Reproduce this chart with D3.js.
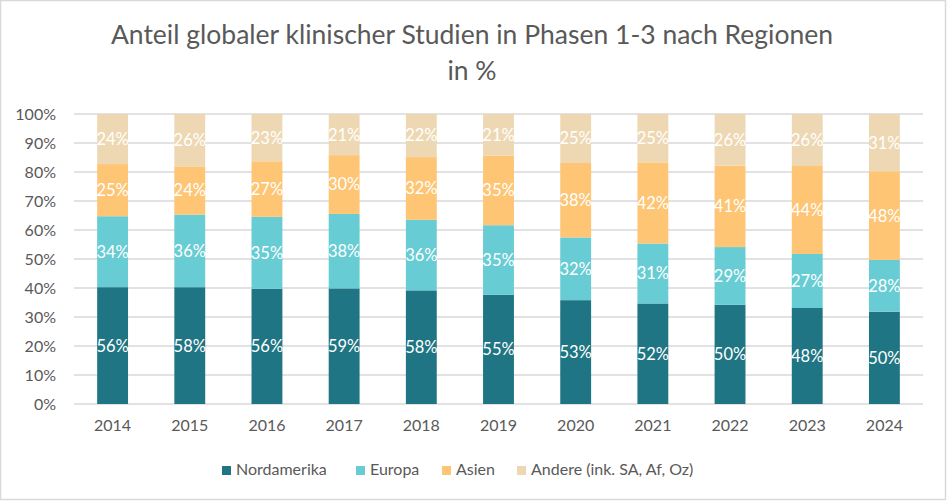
<!DOCTYPE html>
<html>
<head>
<meta charset="utf-8">
<script src="https://cdnjs.cloudflare.com/ajax/libs/d3/7.8.5/d3.min.js"></script>
<style>
  body { margin: 0; background: #fff; }
  svg { display: block; font-family: Lato, "Open Sans", sans-serif; }
</style>
</head>
<body>
<div id="chart"></div>
<script>
// data (labels are the raw shares, bars are normalised to 100%)
const years = ["2014", "2015", "2016", "2017", "2018", "2019", "2020", "2021", "2022", "2023", "2024"];
const regions = ["Nordamerika", "Europa", "Asien", "Andere (ink. SA, Af, Oz)"];
const nordamerika = [56, 58, 56, 59, 58, 55, 53, 52, 50, 48, 50];
const europa = [34, 36, 35, 38, 36, 35, 32, 31, 29, 27, 28];
const asien = [25, 24, 27, 30, 32, 35, 38, 42, 41, 44, 48];
const andere = [24, 26, 23, 21, 22, 21, 25, 25, 26, 26, 31];
const yTicks = [0, 0.1, 0.2, 0.3, 0.4, 0.5, 0.6, 0.7, 0.8, 0.9, 1];

const colors = ["#1f7583", "#67ccd3", "#fdc574", "#eed8b3"];
const width = 947;
const height = 501;
const margin = { top: 114, right: 24, bottom: 97, left: 74 };
const innerW = width - margin.left - margin.right;
const innerH = height - margin.top - margin.bottom;

const series = [nordamerika, europa, asien, andere];
const rows = years.map((y, i) => {
  const r = { year: y };
  regions.forEach((k, j) => r[k] = series[j][i]);
  return r;
});

const stack = d3.stack().keys(regions).offset(d3.stackOffsetExpand);
const stacked = stack(rows);

const svg = d3.select("#chart")
  .append("svg")
  .attr("width", width)
  .attr("height", height);

// outer frame
svg.append("rect")
  .attr("x", 0.5).attr("y", 0.5)
  .attr("width", width - 2).attr("height", height - 2)
  .attr("fill", "#fff")
  .attr("stroke", "#d9d9d9")
  .attr("stroke-width", 1.5);

// title
svg.append("text")
  .attr("x", 472).attr("y", 44)
  .attr("text-anchor", "middle")
  .attr("fill", "#595959")
  .style("font-size", "26.5px")
  .text("Anteil globaler klinischer Studien in Phasen 1-3 nach Regionen");
svg.append("text")
  .attr("x", 472).attr("y", 80)
  .attr("text-anchor", "middle")
  .attr("fill", "#595959")
  .style("font-size", "26.5px")
  .text("in %");

const g = svg.append("g")
  .attr("transform", `translate(${margin.left}, ${margin.top})`);

const xScale = d3.scaleBand()
  .domain(years)
  .range([0, innerW])
  .paddingInner(0.6)
  .paddingOuter(0.3);

const yScale = d3.scaleLinear()
  .domain([0, 1])
  .range([innerH, 0]);

// gridlines
g.append("g")
  .selectAll("line")
  .data(yTicks)
  .enter()
  .append("line")
  .attr("x1", 0).attr("x2", innerW)
  .attr("y1", d => yScale(d)).attr("y2", d => yScale(d))
  .attr("stroke", "#d9d9d9")
  .attr("stroke-width", 1.5);

// y axis
const yAxis = g.append("g")
  .call(d3.axisLeft(yScale).tickValues(yTicks).tickFormat(d3.format(".0%")).tickSize(0).tickPadding(18));
yAxis.select(".domain").remove();
yAxis.selectAll("text")
  .attr("fill", "#595959")
  .style("font-size", "16px")
  .style("font-family", "Lato, sans-serif");

// x axis
const xAxis = g.append("g")
  .attr("transform", `translate(0, ${innerH})`)
  .call(d3.axisBottom(xScale).tickSize(0).tickPadding(16));
xAxis.select(".domain").remove();
xAxis.selectAll("text")
  .attr("fill", "#595959")
  .style("font-size", "16px")
  .style("font-family", "Lato, sans-serif");

// bars
const layer = g.selectAll(".layer")
  .data(stacked)
  .enter()
  .append("g")
  .attr("class", "layer")
  .attr("fill", (d, i) => colors[i]);

layer.selectAll("rect")
  .data(d => d)
  .enter()
  .append("rect")
  .attr("x", d => xScale(d.data.year))
  .attr("y", d => yScale(d[1]))
  .attr("width", xScale.bandwidth())
  .attr("height", d => yScale(d[0]) - yScale(d[1]));

// data labels (raw values)
stacked.forEach(s => {
  g.append("g")
    .selectAll("text")
    .data(s)
    .enter()
    .append("text")
    .attr("x", d => xScale(d.data.year) + xScale.bandwidth() / 2)
    .attr("y", d => (yScale(d[0]) + yScale(d[1])) / 2)
    .attr("dy", "0.36em")
    .attr("text-anchor", "middle")
    .attr("fill", "#fff")
    .style("font-size", "16.5px")
    .text(d => d.data[s.key] + "%");
});

// legend
const legendX = [222, 356, 442, 517];
const legend = svg.append("g")
  .selectAll("g")
  .data(regions)
  .enter()
  .append("g")
  .attr("transform", (d, i) => `translate(${legendX[i]}, 466)`);
legend.append("rect")
  .attr("width", 9).attr("height", 9)
  .attr("fill", (d, i) => colors[i]);
legend.append("text")
  .attr("x", 14).attr("y", 9)
  .attr("fill", "#595959")
  .style("font-size", "16px")
  .text(d => d);
</script>
</body>
</html>
